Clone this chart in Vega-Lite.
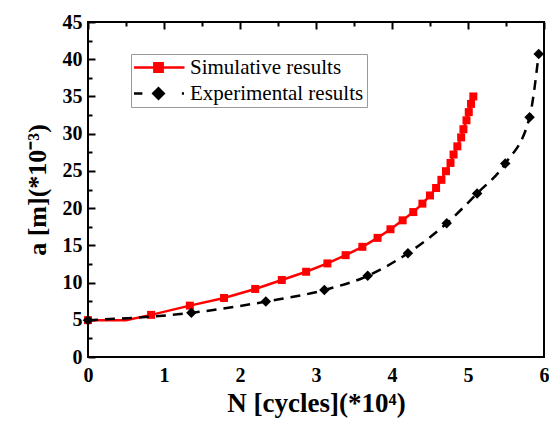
{
  "$schema": "https://vega.github.io/schema/vega-lite/v6.json",
  "width": 456,
  "height": 335,
  "autosize": "none",
  "padding": {"left": 88, "top": 22, "right": 5, "bottom": 64},
  "background": "white",
  "config": {
    "view": {"stroke": "black", "strokeWidth": 2},
    "font": "Liberation Serif"
  },
  "data": {
    "values": [
      {"series": "Simulative results", "N": 0, "a": 4.95},
      {"series": "Simulative results", "N": 0.5, "a": 4.95},
      {"series": "Simulative results", "N": 0.83, "a": 5.66},
      {"series": "Simulative results", "N": 1.34, "a": 6.9},
      {"series": "Simulative results", "N": 1.79, "a": 7.93},
      {"series": "Simulative results", "N": 2.2, "a": 9.14},
      {"series": "Simulative results", "N": 2.55, "a": 10.34},
      {"series": "Simulative results", "N": 2.87, "a": 11.45},
      {"series": "Simulative results", "N": 3.15, "a": 12.57},
      {"series": "Simulative results", "N": 3.39, "a": 13.68},
      {"series": "Simulative results", "N": 3.61, "a": 14.8},
      {"series": "Simulative results", "N": 3.81, "a": 16.0},
      {"series": "Simulative results", "N": 3.98, "a": 17.16},
      {"series": "Simulative results", "N": 4.14, "a": 18.36},
      {"series": "Simulative results", "N": 4.28, "a": 19.47},
      {"series": "Simulative results", "N": 4.4, "a": 20.6},
      {"series": "Simulative results", "N": 4.5, "a": 21.7},
      {"series": "Simulative results", "N": 4.58, "a": 22.7},
      {"series": "Simulative results", "N": 4.65, "a": 23.8},
      {"series": "Simulative results", "N": 4.71, "a": 24.96},
      {"series": "Simulative results", "N": 4.77, "a": 26.07},
      {"series": "Simulative results", "N": 4.81, "a": 27.2},
      {"series": "Simulative results", "N": 4.86, "a": 28.3},
      {"series": "Simulative results", "N": 4.91, "a": 29.5},
      {"series": "Simulative results", "N": 4.94, "a": 30.6},
      {"series": "Simulative results", "N": 4.98, "a": 31.8},
      {"series": "Simulative results", "N": 5.01, "a": 32.9},
      {"series": "Simulative results", "N": 5.04, "a": 34.0},
      {"series": "Simulative results", "N": 5.07, "a": 35.0},
      {"series": "Experimental results", "N": 0, "a": 4.95},
      {"series": "Experimental results", "N": 1.36, "a": 5.93},
      {"series": "Experimental results", "N": 2.34, "a": 7.44},
      {"series": "Experimental results", "N": 3.11, "a": 9.0},
      {"series": "Experimental results", "N": 3.68, "a": 10.9},
      {"series": "Experimental results", "N": 4.21, "a": 13.95},
      {"series": "Experimental results", "N": 4.72, "a": 17.96},
      {"series": "Experimental results", "N": 5.12, "a": 21.97},
      {"series": "Experimental results", "N": 5.49, "a": 25.98},
      {"series": "Experimental results", "N": 5.81, "a": 32.2},
      {"series": "Experimental results", "N": 5.93, "a": 40.7}
    ]
  },
  "encoding": {
    "x": {
      "field": "N", "type": "quantitative",
      "scale": {"domain": [0, 6], "nice": false, "zero": false},
      "axis": {
        "title": "N [cycles](*10⁴)",
        "values": [0, 0.5, 1, 1.5, 2, 2.5, 3, 3.5, 4, 4.5, 5, 5.5, 6],
        "labelExpr": "datum.value % 1 === 0 ? format(datum.value, 'd') : ''",
        "domain": false, "ticks": false, "tickSize": 0,
        "grid": true, "gridColor": "black", "gridWidth": 2, "gridOpacity": 1,
        "gridDash": {"condition": {"test": "datum.value % 1 === 0", "value": [7, 2000]}, "value": [4, 2000]},
        "labelPadding": 8, "labelFontSize": 20, "labelFontWeight": "bold", "labelColor": "black",
        "labelFont": "Liberation Serif", "labelFlush": false, "labelOverlap": false,
        "titleFont": "Liberation Serif", "titleFontSize": 27, "titleFontWeight": "bold", "titleColor": "black",
        "titlePadding": 5
      }
    },
    "y": {
      "field": "a", "type": "quantitative",
      "scale": {"domain": [0, 45], "nice": false},
      "axis": {
        "title": "a [m](*10⁻³)",
        "values": [0, 2.5, 5, 7.5, 10, 12.5, 15, 17.5, 20, 22.5, 25, 27.5, 30, 32.5, 35, 37.5, 40, 42.5, 45],
        "labelExpr": "datum.value % 5 === 0 ? datum.label : ''",
        "domain": false, "ticks": false, "tickSize": 0,
        "grid": true, "gridColor": "black", "gridWidth": 2, "gridOpacity": 1,
        "gridDash": {"condition": {"test": "datum.value % 5 === 0", "value": [7, 2000]}, "value": [4, 2000]},
        "labelPadding": 6, "labelFontSize": 20, "labelFontWeight": "bold", "labelColor": "black",
        "labelFont": "Liberation Serif", "labelFlush": false, "labelOverlap": false,
        "titleFont": "Liberation Serif", "titleFontSize": 26, "titleFontWeight": "bold", "titleColor": "black",
        "titlePadding": 12
      }
    },
    "color": {
      "field": "series", "type": "nominal",
      "scale": {"domain": ["Simulative results", "Experimental results"], "range": ["#ff0000", "#000000"]},
      "legend": {
        "orient": "none", "legendX": 43, "legendY": 32,
        "title": null,
        "labelFont": "Liberation Serif", "labelFontSize": 21, "labelColor": "black", "labelLimit": 400,
        "strokeColor": "#999999", "fillColor": "white", "padding": 3,
        "symbolSize": 100, "symbolOffset": -3, "labelOffset": 4, "rowPadding": 4,
        "clipHeight": 21,
        "encode": {
          "symbols": {
            "update": {
              "shape": [
                {"test": "datum.value === 'Simulative results'", "value": "M-1,0H1M-0.16,-0.16H0.16V0.16H-0.16Z"},
                {"value": "M-1,0H-0.62M-0.2,0L0,-0.2L0.2,0L0,0.2ZM0.9,0H0.98"}
              ],
              "size": {"value": 2704},
              "fill": [
                {"test": "datum.value === 'Simulative results'", "value": "#ff0000"},
                {"value": "#000000"}
              ],
              "stroke": [
                {"test": "datum.value === 'Simulative results'", "value": "#ff0000"},
                {"value": "#000000"}
              ],
              "strokeWidth": {"value": 2.5},
              "strokeDash": {"value": []},
              "opacity": {"value": 1},
              "fillOpacity": {"value": 1}
            }
          }
        }
      }
    }
  },
  "layer": [
    {
      "transform": [{"filter": "datum.series === 'Simulative results'"}],
      "mark": {"type": "line", "strokeWidth": 2.5}
    },
    {
      "transform": [{"filter": "datum.series === 'Simulative results' && datum.N !== 0.5"}],
      "mark": {"type": "point", "shape": "square", "filled": true, "opacity": 1, "size": 64}
    },
    {
      "transform": [{"filter": "datum.series === 'Experimental results'"}],
      "mark": {"type": "line", "strokeWidth": 2.5, "strokeDash": [10, 7], "interpolate": "monotone"}
    },
    {
      "transform": [{"filter": "datum.series === 'Experimental results'"}],
      "mark": {"type": "point", "shape": "diamond", "filled": true, "opacity": 1, "size": 110}
    }
  ]
}
